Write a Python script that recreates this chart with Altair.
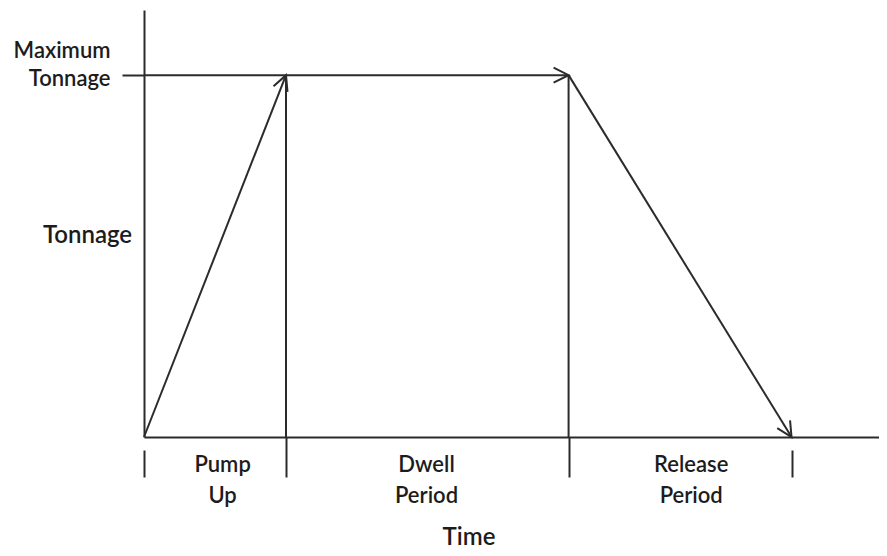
import math
import altair as alt
import pandas as pd

# ---- data (time in arbitrary units, tonnage as fraction of maximum) ----
phase_names = [["Pump", "Up"], ["Dwell", "Period"], ["Release", "Period"]]
phase_bounds = [0.0, 1.0, 2.99, 4.56]          # start / end of each phase
phase_label_at = [0.55, 1.986, 3.85]            # where each phase name sits
tonnage_max = 1.0
time_axis_end = 5.176
tonnage_axis_end = 1.18

# profile segments: (t0, y0) -> (t1, y1), arrow at the end if flagged
seg_t0 = [phase_bounds[0], phase_bounds[0], phase_bounds[1], phase_bounds[2], phase_bounds[2]]
seg_y0 = [0.0, tonnage_max, tonnage_max, tonnage_max, tonnage_max]
seg_t1 = [phase_bounds[1], phase_bounds[2], phase_bounds[1], phase_bounds[2], phase_bounds[3]]
seg_y1 = [tonnage_max, tonnage_max, 0.0, 0.0, 0.0]
seg_arrow = [True, True, False, False, True]

W, H = 735, 427
INK = "#2b2b2b"
TXT = "#1c1c1c"
FONT = "Lato"
WEIGHT = 600

px_x = W / time_axis_end
px_y = H / tonnage_axis_end

segs = pd.DataFrame({"t0": seg_t0, "y0": seg_y0, "t1": seg_t1, "y1": seg_y1})
heads = []
for a, b, c, d, f in zip(seg_t0, seg_y0, seg_t1, seg_y1, seg_arrow):
    if f:
        ang = math.degrees(math.atan2(-(d - b) * px_y, (c - a) * px_x)) % 360
        heads.append({"t": c, "y": d, "angle": ang})
heads = pd.DataFrame(heads)

xs = alt.Scale(domain=[0, time_axis_end], nice=False, zero=False)
ys = alt.Scale(domain=[0, tonnage_axis_end], nice=False, zero=False)

tick_vals = phase_bounds + phase_label_at
label_expr = " : ".join(
    f"datum.value == {v} ? {n!r}" for v, n in zip(phase_label_at, phase_names)
) + " : ''"
is_label = " || ".join(f"datum.value == {v}" for v in phase_label_at)
is_end = f"datum.value == {phase_bounds[0]} || datum.value == {phase_bounds[-1]}"

x_axis = alt.Axis(
    values=tick_vals,
    labelExpr=label_expr,
    domainColor=INK, domainWidth=2,
    tickColor=INK, tickWidth=2, tickSize=40,
    tickOpacity={"condition": {"test": is_label, "value": 0}, "value": 1},
    tickDash={"condition": {"test": is_end, "value": [0, 13, 27]}, "value": [40, 0]},
    labelFont=FONT, labelFontSize=22, labelFontWeight=WEIGHT, labelColor=TXT,
    labelLineHeight=31, labelPadding=-23, labelAlign="center", labelBaseline="top",
    labelOverlap=False, labelFlush=False, grid=False,
    title="Time", titleFont=FONT, titleFontSize=24, titleFontWeight=WEIGHT,
    titleColor=TXT, titleX=324.5, titleY=107, titleAlign="center",
    titleBaseline="alphabetic", titleAnchor="start",
)

y_axis = alt.Axis(
    values=[tonnage_max],
    labelExpr="['Maximum', 'Tonnage']",
    domainColor=INK, domainWidth=2,
    tickColor=INK, tickWidth=2, tickSize=22,
    labelFont=FONT, labelFontSize=22, labelFontWeight=WEIGHT, labelColor=TXT,
    labelLineHeight=28, labelPadding=12, labelAlign="right", labelOffset=-25,
    grid=False,
    title="Tonnage", titleFont=FONT, titleFontSize=24, titleFontWeight=WEIGHT,
    titleColor=TXT, titleAngle=0, titleX=-57, titleY=232, titleAlign="center",
    titleBaseline="alphabetic",
)

lines = alt.Chart(segs).mark_rule(color=INK, strokeWidth=2).encode(
    x=alt.X("t0:Q", scale=xs, axis=x_axis),
    y=alt.Y("y0:Q", scale=ys, axis=y_axis),
    x2="t1:Q",
    y2="y1:Q",
)

arrows = alt.Chart(heads).mark_point(
    shape="M -1.5 -0.75 L 0 0 L -1.5 0.75",
    size=400, filled=False, stroke=INK, strokeWidth=2, opacity=1,
).encode(
    x=alt.X("t:Q", scale=xs),
    y=alt.Y("y:Q", scale=ys),
    angle=alt.Angle("angle:Q", scale=None),
)

chart = (
    alt.layer(lines, arrows)
    .properties(
        width=W, height=H,
        background="white",
        autosize=alt.AutoSizeParams(type="none"),
        padding={"left": 136, "top": 2, "right": 0, "bottom": 111},
    )
    .configure_view(stroke=None, strokeWidth=0)
)

chart.save("out.html", embed_options={"renderer": "svg", "actions": False})
